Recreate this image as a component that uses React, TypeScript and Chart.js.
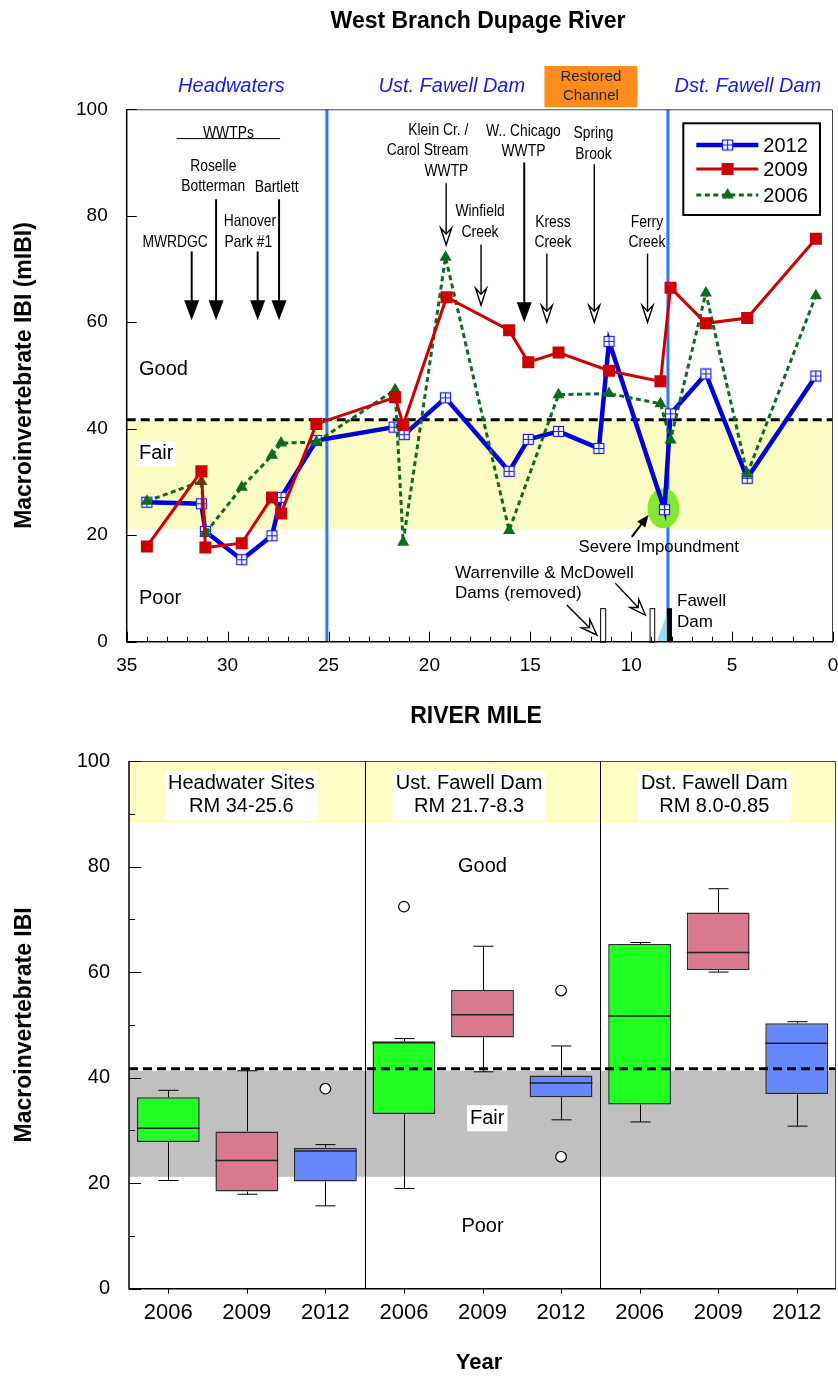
import React, { useEffect, useRef } from 'react';
import { Chart, registerables } from 'chart.js';

Chart.register(...registerables);

// ---------------- Top chart data (river mile profile) ----------------
const seriesYears = ['2012', '2009', '2006'];
const riverMile2012 = [34.0, 31.3, 31.1, 29.3, 27.8, 27.35, 25.6, 21.75, 21.25, 19.2, 16.05, 15.1, 13.6, 11.6, 11.1, 8.35, 8.05, 6.3, 4.25, 0.85];
const mibi2012 = [26.2, 25.9, 20.7, 15.4, 19.9, 27.1, 37.8, 40.3, 38.9, 45.8, 32.0, 38.0, 39.5, 36.3, 56.4, 24.8, 42.8, 50.3, 30.7, 49.9];
const riverMile2009 = [34.0, 31.3, 31.1, 29.3, 27.8, 27.35, 25.6, 21.7, 21.3, 19.15, 16.05, 15.1, 13.6, 11.1, 8.55, 8.05, 6.3, 4.25, 0.85];
const mibi2009 = [17.9, 32.0, 17.7, 18.5, 27.1, 24.1, 40.9, 45.9, 40.7, 64.7, 58.5, 52.5, 54.3, 50.9, 48.9, 66.5, 59.8, 60.8, 75.7];
const riverMile2006 = [34.0, 31.3, 31.1, 29.3, 27.8, 27.35, 25.6, 21.7, 21.3, 19.2, 16.05, 13.6, 11.1, 8.55, 8.05, 6.3, 4.25, 0.85];
const mibi2006 = [26.4, 30.1, 20.4, 29.0, 35.0, 37.3, 37.5, 47.3, 18.7, 72.2, 20.9, 46.4, 46.6, 44.7, 37.9, 65.5, 31.5, 65.0];

const fairGoodThreshold = 41.7;
const poorFairThreshold = 21.2;
const reachBoundaries = [25.08, 8.18];

// ---------------- Bottom chart data (box plots) ----------------
const boxYears = ['2006', '2009', '2012', '2006', '2009', '2012', '2006', '2009', '2012'];
const boxGroups = ['Headwater Sites', 'Ust. Fawell Dam', 'Dst. Fawell Dam'];
const boxGroupRanges = ['RM 34-25.6', 'RM 21.7-8.3', 'RM 8.0-0.85'];
const whiskerLow = [20.5, 17.9, 15.7, 19.0, 41.1, 32.0, 31.6, 60.0, 30.8];
const boxQ1 = [27.8, 18.4, 20.3, 33.1, 47.6, 36.3, 34.9, 60.4, 36.9];
const boxMedian = [30.4, 24.3, 26.1, 46.6, 51.9, 39.0, 51.7, 63.7, 46.5];
const boxQ3 = [36.3, 29.8, 26.7, 46.9, 56.6, 40.4, 65.3, 71.3, 50.3];
const whiskerHigh = [37.6, 41.3, 27.3, 47.4, 64.9, 46.0, 65.6, 75.8, 50.6];
const boxOutliers = [[], [], [37.9], [72.4], [], [56.5, 25.0], [], [], []];
const exceptionalThreshold = 88.3;

const FONT = "'Liberation Sans', Arial, Helvetica, sans-serif";
const NARROW = 0.84;
const yearColors: any = { '2006': '#22ff22', '2009': '#d8798f', '2012': '#6688ff' };

function text(ctx: any, s: string, x: number, y: number, size: number, opts: any = {}) {
  ctx.save();
  ctx.font = `${opts.italic ? 'italic ' : ''}${opts.bold ? 'bold ' : ''}${size}px ${FONT}`;
  ctx.fillStyle = opts.color || '#000';
  ctx.textAlign = opts.align || 'center';
  ctx.textBaseline = 'middle';
  ctx.translate(x, y);
  if (opts.rotate) ctx.rotate(opts.rotate);
  ctx.scale(opts.sx || 1, 1);
  ctx.fillText(s, 0, 0);
  ctx.restore();
}

function arrowLocal(ctx: any, len: number, filled: boolean, hw: number, hh: number) {
  ctx.strokeStyle = '#000';
  if (filled) {
    ctx.lineWidth = 2;
    ctx.beginPath(); ctx.moveTo(0, 0); ctx.lineTo(0, len - hh + 1); ctx.stroke();
    ctx.fillStyle = '#000';
    ctx.beginPath(); ctx.moveTo(-hw, len - hh); ctx.lineTo(hw, len - hh); ctx.lineTo(0, len); ctx.closePath(); ctx.fill();
  } else {
    const notch = hh * 0.35;
    ctx.lineWidth = 1.4;
    ctx.beginPath(); ctx.moveTo(0, 0); ctx.lineTo(0, len - hh + notch); ctx.stroke();
    ctx.fillStyle = '#fff';
    ctx.beginPath(); ctx.moveTo(0, len - hh + notch); ctx.lineTo(-hw, len - hh); ctx.lineTo(0, len); ctx.lineTo(hw, len - hh); ctx.closePath();
    ctx.fill(); ctx.stroke();
  }
}

function arrow(ctx: any, x1: number, y1: number, x2: number, y2: number, filled: boolean, hw: number, hh: number) {
  const dx = x2 - x1, dy = y2 - y1;
  const len = Math.hypot(dx, dy);
  ctx.save();
  ctx.translate(x1, y1);
  ctx.rotate(Math.atan2(-dx, dy));
  arrowLocal(ctx, len, filled, hw, hh);
  ctx.restore();
}

function makeGridMarker(): HTMLCanvasElement {
  const c = document.createElement('canvas');
  c.width = 13; c.height = 13;
  const g = c.getContext('2d')!;
  g.fillStyle = '#fff';
  g.fillRect(1, 1, 11, 11);
  g.strokeStyle = '#1a1aff';
  g.lineWidth = 1.2;
  g.strokeRect(1.5, 1.5, 10, 10);
  g.beginPath();
  g.moveTo(6.5, 1.5); g.lineTo(6.5, 11.5);
  g.moveTo(1.5, 6.5); g.lineTo(11.5, 6.5);
  g.stroke();
  return c;
}

// annotation layout (mile, mIBI) for the top chart
const narrowNotes: any[] = [
  ['WWTPs', 29.96, 95.5, 'center'],
  ['Roselle', 30.71, 89.2, 'center'], ['Botterman', 30.71, 85.5, 'center'],
  ['Bartlett', 27.57, 85.4, 'center'],
  ['Hanover', 28.89, 78.9, 'center'], ['Park #1', 28.97, 74.9, 'center'],
  ['MWRDGC', 32.6, 74.9, 'center'],
  ['Klein Cr. /', 18.07, 96.1, 'right'], ['Carol Stream', 18.07, 92.2, 'right'], ['WWTP', 18.07, 88.4, 'right'],
  ['Winfield', 17.49, 80.8, 'center'], ['Creek', 17.49, 76.9, 'center'],
  ['W.. Chicago', 15.34, 95.8, 'center'], ['WWTP', 15.34, 92.0, 'center'],
  ['Kress', 13.88, 78.8, 'center'], ['Creek', 13.88, 75.0, 'center'],
  ['Spring', 11.87, 95.4, 'center'], ['Brook', 11.87, 91.5, 'center'],
  ['Ferry', 9.22, 78.8, 'center'], ['Creek', 9.22, 75.0, 'center'],
];
const downArrows: any[] = [
  [31.78, 73.3, 60.4, true], [30.57, 83.1, 60.4, true], [28.51, 73.3, 60.4, true], [27.45, 83.1, 60.4, true],
  [19.17, 86.1, 74.5, false], [17.44, 74.6, 63.2, false], [15.3, 90.0, 60.0, true], [14.18, 72.9, 60.0, false],
  [11.83, 89.7, 60.0, false], [9.19, 72.9, 60.0, false],
];

const topDecor = {
  id: 'topDecor',
  beforeDatasetsDraw(chart: any) {
    const { ctx, chartArea: a } = chart;
    const xs = chart.scales.x, ys = chart.scales.y;
    const X = (m: number) => xs.getPixelForValue(m);
    const Y = (v: number) => ys.getPixelForValue(v);
    ctx.save();
    ctx.fillStyle = '#fbfbc4';
    ctx.fillRect(a.left, Y(fairGoodThreshold), a.right - a.left, Y(poorFairThreshold) - Y(fairGoodThreshold));
    const zx = X(34.39);
    text(ctx, 'Good', zx, Y(51.2), 20, { align: 'left' });
    ctx.font = `20px ${FONT}`;
    const fw = ctx.measureText('Fair').width;
    ctx.fillStyle = '#fff';
    ctx.fillRect(zx - 2, Y(35.3) - 12.5, fw + 4, 25);
    text(ctx, 'Fair', zx, Y(35.3), 20, { align: 'left' });
    text(ctx, 'Poor', zx, Y(8.2), 20, { align: 'left' });
    ctx.strokeStyle = '#000';
    ctx.lineWidth = 3;
    ctx.setLineDash([9, 5]);
    ctx.beginPath(); ctx.moveTo(a.left, Y(fairGoodThreshold)); ctx.lineTo(a.right, Y(fairGoodThreshold)); ctx.stroke();
    ctx.setLineDash([]);
    ctx.strokeStyle = '#2b78ff';
    ctx.lineWidth = 3;
    reachBoundaries.forEach((m) => {
      ctx.beginPath(); ctx.moveTo(X(m), a.top); ctx.lineTo(X(m), a.bottom); ctx.stroke();
    });
    ctx.fillStyle = '#86e82e';
    ctx.beginPath(); ctx.ellipse(X(8.4), Y(25.05), 16, 20, 0, 0, Math.PI * 2); ctx.fill();
    ctx.fillStyle = '#fff'; ctx.strokeStyle = '#000'; ctx.lineWidth = 1;
    [[11.54, 11.24], [9.09, 8.81]].forEach(([m1, m2]) => {
      ctx.fillRect(X(m1), Y(6.3), X(m2) - X(m1), Y(0) - Y(6.3));
      ctx.strokeRect(X(m1) + 0.5, Y(6.3) + 0.5, X(m2) - X(m1) - 1, Y(0) - Y(6.3));
    });
    ctx.fillStyle = '#8fdff0';
    ctx.beginPath(); ctx.moveTo(X(8.73), Y(0)); ctx.lineTo(X(8.23), Y(5.3)); ctx.lineTo(X(8.23), Y(0)); ctx.closePath(); ctx.fill();
    ctx.fillStyle = '#000';
    ctx.fillRect(X(8.23), Y(6.3), X(7.98) - X(8.23), Y(0) - Y(6.3));
    narrowNotes.forEach(([t, m, v, al]) => text(ctx, t, X(m), Y(v), 16.5, { align: al, sx: NARROW }));
    ctx.strokeStyle = '#000'; ctx.lineWidth = 1;
    ctx.beginPath(); ctx.moveTo(X(32.52), Y(94.5)); ctx.lineTo(X(27.4), Y(94.5)); ctx.stroke();
    downArrows.forEach(([m, v1, v2, f]) => arrow(ctx, X(m), Y(v1), X(m), Y(v2), f, f ? 7.5 : 5.5, f ? 20 : 17));
    text(ctx, 'Severe Impoundment', X(12.61), Y(17.8), 16.8, { align: 'left' });
    arrow(ctx, X(9.97), Y(19.7), X(9.14), Y(23.8), true, 5, 12);
    text(ctx, 'Warrenville & McDowell', X(18.73), Y(12.8), 17, { align: 'left' });
    text(ctx, 'Dams (removed)', X(18.73), Y(9.1), 17, { align: 'left' });
    arrow(ctx, X(13.19), Y(6.9), X(11.7), Y(1.26), false, 6, 16);
    arrow(ctx, X(10.79), Y(11.0), X(9.3), Y(5.0), false, 6, 16);
    text(ctx, 'Fawell', X(7.73), Y(7.5), 17, { align: 'left' });
    text(ctx, 'Dam', X(7.73), Y(3.6), 17, { align: 'left' });
    ctx.restore();
  },
  afterDatasetsDraw(chart: any) {
    const { ctx, chartArea: a } = chart;
    const xs = chart.scales.x, ys = chart.scales.y;
    ctx.save();
    const lx = a.right - 149.7, ly = a.top + 14;
    ctx.fillStyle = '#fff';
    ctx.fillRect(lx, ly, 136.7, 91.7);
    ctx.strokeStyle = '#000'; ctx.lineWidth = 2;
    ctx.strokeRect(lx, ly, 136.7, 91.7);
    const rows = [21.7, 45.7, 71.7];
    chart.data.datasets.forEach((ds: any, i: number) => {
      const y = ly + rows[i];
      ctx.strokeStyle = ds.borderColor; ctx.lineWidth = ds.borderWidth;
      ctx.setLineDash(ds.borderDash || []);
      ctx.beginPath(); ctx.moveTo(lx + 13, y); ctx.lineTo(lx + 75, y); ctx.stroke();
      ctx.setLineDash([]);
      const mx = lx + 44.3;
      if (typeof ds.pointStyle === 'object') {
        ctx.drawImage(ds.pointStyle, mx - 6.5, y - 6.5);
      } else if (ds.pointStyle === 'rect') {
        const s = ds.pointRadius * Math.SQRT1_2;
        ctx.fillStyle = ds.pointBackgroundColor; ctx.fillRect(mx - s, y - s, 2 * s, 2 * s);
      } else {
        const r = ds.pointRadius;
        ctx.fillStyle = ds.pointBackgroundColor;
        ctx.beginPath();
        ctx.moveTo(mx, y - r); ctx.lineTo(mx + r * 0.866, y + r / 2); ctx.lineTo(mx - r * 0.866, y + r / 2); ctx.closePath(); ctx.fill();
      }
      text(ctx, ds.label, lx + 80, y + 1, 20, { align: 'left' });
    });
    ctx.strokeStyle = '#444'; ctx.lineWidth = 1;
    ctx.beginPath(); ctx.moveTo(a.left, a.top + 0.5); ctx.lineTo(a.right - 0.5, a.top + 0.5); ctx.lineTo(a.right - 0.5, a.bottom); ctx.stroke();
    ctx.strokeStyle = '#000'; ctx.lineWidth = 1.5;
    ctx.beginPath(); ctx.moveTo(a.left, a.top); ctx.lineTo(a.left, a.bottom); ctx.lineTo(a.right, a.bottom); ctx.stroke();
    ctx.lineWidth = 1;
    for (let m = 0; m <= 35; m++) {
      const x = Math.round(xs.getPixelForValue(m)) + 0.5;
      const len = m % 5 === 0 ? 10 : 5;
      ctx.beginPath(); ctx.moveTo(x, a.bottom); ctx.lineTo(x, a.bottom - len); ctx.stroke();
    }
    for (let v = 0; v <= 100; v += 20) {
      const y = Math.round(ys.getPixelForValue(v)) + 0.5;
      ctx.beginPath(); ctx.moveTo(a.left, y); ctx.lineTo(a.left + 10, y); ctx.stroke();
    }
    ctx.restore();
  },
  afterDraw(chart: any) {
    const { ctx, chartArea: a } = chart;
    const X = (m: number) => chart.scales.x.getPixelForValue(m);
    ctx.save();
    text(ctx, 'West Branch Dupage River', 478, 22, 23, { bold: true });
    text(ctx, 'Headwaters', X(29.81), a.top - 22.6, 20, { italic: true, color: '#1a1ae6' });
    text(ctx, 'Ust. Fawell Dam', X(18.89), a.top - 22.6, 20, { italic: true, color: '#1a1ae6' });
    text(ctx, 'Dst. Fawell Dam', X(4.22), a.top - 22.6, 20, { italic: true, color: '#1a1ae6' });
    ctx.fillStyle = '#ff8c1f';
    ctx.fillRect(X(14.3), a.top - 43.3, X(9.69) - X(14.3), 41.3);
    text(ctx, 'Restored', (X(14.3) + X(9.69)) / 2, a.top - 32, 15, { color: '#222' });
    text(ctx, 'Channel', (X(14.3) + X(9.69)) / 2, a.top - 13.3, 15, { color: '#222' });
    text(ctx, 'Macroinvertebrate IBI (mIBI)', 25, (a.top + a.bottom) / 2, 23, { bold: true, rotate: -Math.PI / 2 });
    text(ctx, 'RIVER MILE', 476, 717, 23, { bold: true });
    ctx.restore();
  },
};

const botDecor = {
  id: 'botDecor',
  beforeDatasetsDraw(chart: any) {
    const { ctx, chartArea: a } = chart;
    const xs = chart.scales.x, ys = chart.scales.y;
    const X = (i: number) => xs.getPixelForValue(i);
    const Y = (v: number) => ys.getPixelForValue(v);
    ctx.save();
    ctx.fillStyle = '#fdfdc4';
    ctx.fillRect(a.left, Y(100), a.right - a.left, Y(exceptionalThreshold) - Y(100));
    ctx.fillStyle = '#c0c0c0';
    ctx.fillRect(a.left, Y(41.3), a.right - a.left, Y(poorFairThreshold) - Y(41.3));
    ctx.strokeStyle = '#000'; ctx.lineWidth = 1;
    [2.5, 5.5].forEach((i) => {
      const x = Math.round(X(i)) + 0.5;
      ctx.beginPath(); ctx.moveTo(x, a.top); ctx.lineTo(x, a.bottom); ctx.stroke();
    });
    const centers = [0.93, 3.83, 6.95];
    boxGroups.forEach((g, k) => {
      const cx = X(centers[k]);
      ctx.font = `20px ${FONT}`;
      const w = Math.max(ctx.measureText(g).width, ctx.measureText(boxGroupRanges[k]).width) + 6;
      const y1 = Y(95.8), y2 = Y(91.4);
      ctx.fillStyle = '#fff';
      ctx.fillRect(cx - w / 2, y1 - 12.4, w, y2 - y1 + 26.4);
      text(ctx, g, cx, y1, 20);
      text(ctx, boxGroupRanges[k], cx, y2, 20);
    });
    text(ctx, 'Good', X(4), Y(80.0), 20);
    ctx.font = `20px ${FONT}`;
    const fw = ctx.measureText('Fair').width;
    ctx.fillStyle = '#fff';
    ctx.fillRect(X(4.06) - fw / 2 - 3, Y(32.3) - 13, fw + 6, 26);
    text(ctx, 'Fair', X(4.06), Y(32.3), 20);
    text(ctx, 'Poor', X(4), Y(11.75), 20);
    ctx.strokeStyle = '#000'; ctx.lineWidth = 1;
    boxYears.forEach((_, i) => {
      const x = Math.round(X(i)) + 0.5;
      ctx.beginPath();
      ctx.moveTo(x, Y(whiskerHigh[i])); ctx.lineTo(x, Y(boxQ3[i]));
      ctx.moveTo(x, Y(boxQ1[i])); ctx.lineTo(x, Y(whiskerLow[i]));
      ctx.moveTo(x - 10, Y(whiskerHigh[i])); ctx.lineTo(x + 10, Y(whiskerHigh[i]));
      ctx.moveTo(x - 10, Y(whiskerLow[i])); ctx.lineTo(x + 10, Y(whiskerLow[i]));
      ctx.stroke();
    });
    ctx.restore();
  },
  afterDatasetsDraw(chart: any) {
    const { ctx, chartArea: a } = chart;
    const xs = chart.scales.x, ys = chart.scales.y;
    const X = (i: number) => xs.getPixelForValue(i);
    const Y = (v: number) => ys.getPixelForValue(v);
    const meta = chart.getDatasetMeta(0);
    ctx.save();
    ctx.strokeStyle = '#222'; ctx.lineWidth = 1.5;
    meta.data.forEach((el: any, i: number) => {
      const { x, width } = el.getProps(['x', 'width'], true);
      ctx.beginPath(); ctx.moveTo(x - width / 2, Y(boxMedian[i])); ctx.lineTo(x + width / 2, Y(boxMedian[i])); ctx.stroke();
    });
    ctx.lineWidth = 1.2;
    boxOutliers.forEach((list, i) => {
      list.forEach((v) => {
        ctx.fillStyle = '#fff'; ctx.strokeStyle = '#000';
        ctx.beginPath(); ctx.arc(X(i), Y(v), 5.3, 0, Math.PI * 2); ctx.fill(); ctx.stroke();
      });
    });
    ctx.strokeStyle = '#000'; ctx.lineWidth = 3; ctx.setLineDash([9, 5]);
    ctx.beginPath(); ctx.moveTo(a.left, Y(fairGoodThreshold)); ctx.lineTo(a.right, Y(fairGoodThreshold)); ctx.stroke();
    ctx.setLineDash([]);
    ctx.strokeStyle = '#444'; ctx.lineWidth = 1;
    ctx.beginPath(); ctx.moveTo(a.left, a.top + 0.5); ctx.lineTo(a.right - 0.5, a.top + 0.5); ctx.lineTo(a.right - 0.5, a.bottom); ctx.stroke();
    ctx.strokeStyle = '#000'; ctx.lineWidth = 1.5;
    ctx.beginPath(); ctx.moveTo(a.left, a.top); ctx.lineTo(a.left, a.bottom); ctx.lineTo(a.right, a.bottom); ctx.stroke();
    ctx.lineWidth = 1;
    for (let v = 0; v <= 100; v += 10) {
      const y = Math.round(Y(v)) + 0.5;
      const len = v % 20 === 0 ? 12 : 6;
      ctx.beginPath(); ctx.moveTo(a.left, y); ctx.lineTo(a.left + len, y); ctx.stroke();
    }
    boxYears.forEach((_, i) => {
      const x = Math.round(X(i)) + 0.5;
      ctx.beginPath(); ctx.moveTo(x, a.bottom); ctx.lineTo(x, a.bottom + 5); ctx.stroke();
    });
    ctx.restore();
  },
  afterDraw(chart: any) {
    const { ctx, chartArea: a } = chart;
    text(ctx, 'Macroinvertebrate IBI', 25, (a.top + a.bottom) / 2, 23, { bold: true, rotate: -Math.PI / 2 });
    text(ctx, 'Year', 479, 622.7, 22, { bold: true });
  },
};

function topConfig(): any {
  const marker2012 = makeGridMarker();
  const pts = (xs: number[], ys: number[]) => xs.map((m, i) => ({ x: m, y: ys[i] }));
  return {
    type: 'scatter',
    data: {
      datasets: [
        {
          label: seriesYears[0], data: pts(riverMile2012, mibi2012), showLine: true,
          borderColor: '#0000d8', borderWidth: 4.5, pointStyle: marker2012, pointRadius: 6, order: 3,
        },
        {
          label: seriesYears[1], data: pts(riverMile2009, mibi2009), showLine: true,
          borderColor: '#cc0000', borderWidth: 3, pointStyle: 'rect', pointRadius: 8.5,
          pointBackgroundColor: '#cc0000', pointBorderColor: '#cc0000', pointBorderWidth: 0, order: 1,
        },
        {
          label: seriesYears[2], data: pts(riverMile2006, mibi2006), showLine: true,
          borderColor: '#0b6b1f', borderWidth: 3, borderDash: [5, 3.5], pointStyle: 'triangle', pointRadius: 7,
          pointBackgroundColor: '#0b6b1f', pointBorderColor: '#0b6b1f', pointBorderWidth: 0, order: 2,
        },
      ],
    },
    options: {
      responsive: false, animation: false, devicePixelRatio: 1, events: [],
      layout: { autoPadding: false, padding: { top: 109.3, right: 5, left: 0, bottom: 0 } },
      plugins: { legend: { display: false }, tooltip: { enabled: false }, title: { display: false } },
      scales: {
        x: {
          type: 'linear', reverse: true, min: 0, max: 35,
          afterFit: (s: any) => { s.height = 98.3; s.paddingLeft = 0; s.paddingRight = 0; },
          grid: { display: false, drawTicks: false }, border: { display: false },
          ticks: { stepSize: 5, color: '#000', font: { family: FONT, size: 19 }, padding: 13, maxRotation: 0 },
        },
        y: {
          min: 0, max: 100,
          afterFit: (s: any) => { s.width = 126.7; s.paddingTop = 0; s.paddingBottom = 0; },
          grid: { display: false, drawTicks: false }, border: { display: false },
          ticks: { stepSize: 20, color: '#000', font: { family: FONT, size: 19 }, padding: 19 },
        },
      },
    },
    plugins: [topDecor],
  };
}

function botConfig(): any {
  return {
    type: 'bar',
    data: {
      labels: boxYears,
      datasets: [{
        data: boxQ1.map((q, i) => [q, boxQ3[i]]),
        backgroundColor: boxYears.map((y) => yearColors[y]),
        borderColor: '#2b2b2b', borderWidth: 1.5, borderSkipped: false,
        barPercentage: 0.8, categoryPercentage: 1,
      }],
    },
    options: {
      responsive: false, animation: false, devicePixelRatio: 1, events: [],
      layout: { autoPadding: false, padding: { top: 21, right: 2, left: 0, bottom: 0 } },
      plugins: { legend: { display: false }, tooltip: { enabled: false } },
      scales: {
        x: {
          afterFit: (s: any) => { s.height = 87.3; s.paddingLeft = 0; s.paddingRight = 0; },
          grid: { display: false, drawTicks: false }, border: { display: false },
          ticks: { color: '#000', font: { family: FONT, size: 22 }, padding: 11, maxRotation: 0, autoSkip: false },
        },
        y: {
          min: 0, max: 100,
          afterFit: (s: any) => { s.width = 129; s.paddingTop = 0; s.paddingBottom = 0; },
          grid: { display: false, drawTicks: false }, border: { display: false },
          ticks: { stepSize: 20, color: '#000', font: { family: FONT, size: 20 }, padding: 19 },
        },
      },
    },
    plugins: [botDecor],
  };
}

export default function App() {
  const topRef = useRef<HTMLCanvasElement>(null);
  const botRef = useRef<HTMLCanvasElement>(null);
  useEffect(() => {
    const top = new Chart(topRef.current!, topConfig());
    const bot = new Chart(botRef.current!, botConfig());
    return () => { top.destroy(); bot.destroy(); };
  }, []);
  return (
    <div style={{ position: 'absolute', left: 0, top: 0, width: 838, height: 1376, background: '#fff' }}>
      <canvas ref={topRef} width={838} height={740} style={{ position: 'absolute', left: 0, top: 0, width: 838, height: 740 }} />
      <canvas ref={botRef} width={838} height={636} style={{ position: 'absolute', left: 0, top: 740, width: 838, height: 636 }} />
    </div>
  );
}
